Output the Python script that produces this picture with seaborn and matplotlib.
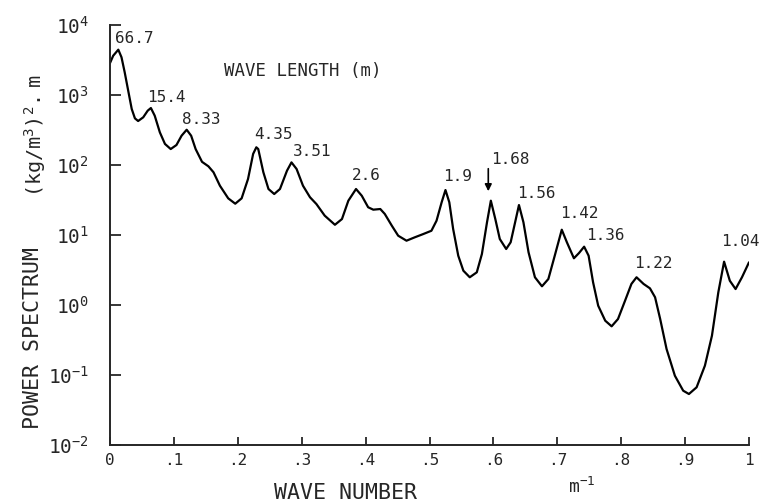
import matplotlib
matplotlib.use("Agg")
import matplotlib.pyplot as plt
import seaborn as sns
import numpy as np
import pandas as pd

# ---- data ----
wave_number = [0.000, 0.005, 0.013, 0.018, 0.023, 0.029, 0.034, 0.039, 0.044, 0.052,
               0.059, 0.064, 0.070, 0.078, 0.086, 0.095, 0.104, 0.112, 0.120, 0.127,
               0.134, 0.144, 0.154, 0.162, 0.172, 0.185, 0.196, 0.206, 0.216, 0.224,
               0.229, 0.232, 0.240, 0.248, 0.257, 0.266, 0.277, 0.284, 0.292, 0.302,
               0.313, 0.323, 0.336, 0.352, 0.363, 0.373, 0.385, 0.394, 0.404, 0.412,
               0.423, 0.430, 0.441, 0.451, 0.464, 0.477, 0.490, 0.503, 0.511, 0.519,
               0.525, 0.531, 0.537, 0.545, 0.553, 0.563, 0.574, 0.582, 0.590, 0.596,
               0.603, 0.610, 0.620, 0.627, 0.634, 0.640, 0.647, 0.655, 0.665, 0.676,
               0.686, 0.696, 0.707, 0.715, 0.726, 0.734, 0.742, 0.749, 0.756, 0.764,
               0.775, 0.785, 0.795, 0.806, 0.816, 0.824, 0.835, 0.845, 0.853, 0.861,
               0.871, 0.884, 0.897, 0.906, 0.918, 0.931, 0.942, 0.952, 0.961, 0.970,
               0.979, 0.989, 1.000]
power = [2860, 3640, 4440, 3460, 2110, 1090, 631, 464, 425, 480,
         597, 652, 506, 293, 200, 169, 193, 262, 319, 262,
         169, 111, 95.8, 78.7, 50.6, 33.4, 28.0, 33.4, 63.1, 144,
         179, 169, 78.7, 45.4, 38.5, 45.4, 83, 109, 87.7, 50.6,
         34.6, 27.7, 18.9, 14.0, 16.9, 30.9, 45.4, 36.4, 24.9, 23.0,
         23.5, 20.0, 13.6, 9.77, 8.29, 9.27, 10.3, 11.5, 16.0, 29.3,
         43.9, 29.3, 12.2, 5.06, 3.09, 2.49, 2.93, 5.35, 15.2, 30.9,
         16.9, 8.77, 6.31, 7.87, 15.2, 26.8, 15.2, 5.66, 2.49, 1.85,
         2.35, 5.06, 11.9, 7.87, 4.65, 5.53, 6.81, 5.06, 2.11, 0.977,
         0.597, 0.496, 0.631, 1.15, 2.0, 2.49, 2.0, 1.73, 1.29, 0.631,
         0.235, 0.0977, 0.0597, 0.0535, 0.0667, 0.136, 0.364, 1.52, 4.16, 2.22,
         1.69, 2.49, 4.07]

peak_labels = ["66.7", "15.4", "8.33", "4.35", "3.51", "2.6", "1.9",
               "1.68", "1.56", "1.42", "1.36", "1.22", "1.04"]
x_tick_values = [0, .1, .2, .3, .4, .5, .6, .7, .8, .9, 1]
x_tick_labels = ["0", ".1", ".2", ".3", ".4", ".5", ".6", ".7", ".8", ".9", "1"]
y_tick_values = [1e-2, 1e-1, 1e0, 1e1, 1e2, 1e3, 1e4]
y_tick_labels = [r"$\mathregular{10^{-2}}$", r"$\mathregular{10^{-1}}$",
                 r"$\mathregular{10^{0}}$", r"$\mathregular{10^{1}}$",
                 r"$\mathregular{10^{2}}$", r"$\mathregular{10^{3}}$",
                 r"$\mathregular{10^{4}}$"]

# ---- layout (label centres, data coordinates) ----
label_pos = [(0.0376, 6310), (0.0876, 936), (0.1424, 454), (0.255, 277),
             (0.316, 158), (0.4006, 69.7), (0.5446, 67.4), (0.626, 118),
             (0.6667, 39.8), (0.734, 20), (0.775, 10), (0.850, 3.98),
             (0.986, 8.2)]

sns.set_style("ticks")
plt.rcParams["font.family"] = ["DejaVu Sans Mono", "DejaVu Sans"]
plt.rcParams["mathtext.fontset"] = "custom"
plt.rcParams["mathtext.rm"] = "DejaVu Sans Mono"
plt.rcParams["mathtext.it"] = "DejaVu Sans Mono"
plt.rcParams["mathtext.bf"] = "DejaVu Sans Mono"

fig = plt.figure(figsize=(7.61, 5.04), dpi=100)
ax = fig.add_axes([110 / 761, 1 - 445 / 504, 639 / 761, 420 / 504])

df = pd.DataFrame({"k": wave_number, "P": power})
sns.lineplot(data=df, x="k", y="P", ax=ax, color="black", lw=1.6,
             estimator=None, sort=False, solid_joinstyle="round",
             solid_capstyle="round")
ax.set_yscale("log")
ax.set_xlim(0, 1)
ax.set_ylim(1e-2, 1e4)
ax.set_xticks(x_tick_values)
ax.set_xticklabels(x_tick_labels, fontsize=11.5)
ax.set_yticks(y_tick_values)
ax.set_yticklabels(y_tick_labels, fontsize=14)
ax.minorticks_off()
ax.tick_params(axis="y", direction="in", length=8, width=1.3, pad=15)
ax.tick_params(axis="x", direction="in", length=6, width=1.3, pad=6)
for s in ["top", "right"]:
    ax.spines[s].set_visible(False)
for s in ["left", "bottom"]:
    ax.spines[s].set_linewidth(1.4)
ax.set_xlabel("")
ax.set_ylabel("")

for txt, (lx, ly) in zip(peak_labels, label_pos):
    ax.text(lx, ly, txt, fontsize=11.5, ha="center", va="center")

ax.annotate("", xy=(0.592, 38.5), xytext=(0.592, 97),
            arrowprops=dict(arrowstyle="-|>", color="black", lw=1.2,
                            mutation_scale=10))
ax.text(0.302, 2200, "WAVE LENGTH (m)", fontsize=12.5, ha="center", va="center")

fig.text(345 / 761, 1 - 493 / 504, "WAVE NUMBER", fontsize=15.5,
         ha="center", va="center")
fig.text(582 / 761, 1 - 487 / 504, r"$\mathregular{m^{-1}}$", fontsize=13,
         ha="center", va="center")
fig.text(33 / 761, 1 - 338 / 504, "POWER SPECTRUM", fontsize=15.5,
         rotation=90, ha="center", va="center")
fig.text(35 / 761, 1 - 136 / 504, r"$\mathregular{(kg/m^{3})^{2}.\ m}$",
         fontsize=14.5, rotation=90, ha="center", va="center")

fig.savefig("out.png", dpi=100, facecolor="white")
